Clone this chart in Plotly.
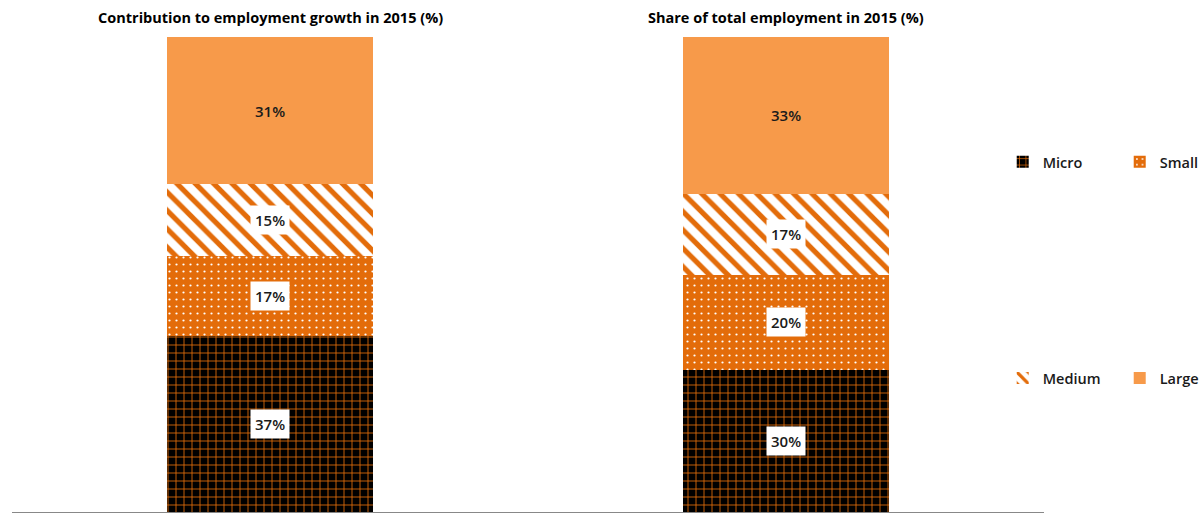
import plotly.graph_objects as go

# Data
categories = ["Contribution to employment growth in 2015 (%)",
              "Share of total employment in 2015 (%)"]
micro = [37, 30]
small = [17, 20]
medium = [15, 17]
large = [31, 33]

ORANGE = "#E36C0A"
LIGHT = "#F79A4A"
FONT = "Open Sans"

series = [
    ("Micro", micro, dict(shape="+", fgcolor=ORANGE, bgcolor="#000000", size=8, solidity=0.2, fgopacity=1), "#000000"),
    ("Small", small, dict(shape=".", fgcolor="#FFFFFF", bgcolor=ORANGE, size=7, solidity=0.08, fgopacity=1), ORANGE),
    ("Medium", medium, dict(shape="\\", fgcolor=ORANGE, bgcolor="#FFFFFF", size=13, solidity=0.4, fgopacity=1), "#FFFFFF"),
    ("Large", large, None, LIGHT),
]

fig = go.Figure()
for i, (name, vals, pat, col) in enumerate(series):
    marker = dict(color=col, line=dict(width=0))
    if pat:
        marker["pattern"] = pat
    fig.add_trace(go.Bar(
        x=categories, y=vals, name=name, marker=marker, width=0.4,
        legend="legend" if i < 2 else "legend2",
        hoverinfo="skip",
    ))

# Value labels at segment midpoints
annotations = []
for j, cat in enumerate(categories):
    base = 0
    for i, (name, vals, pat, col) in enumerate(series):
        v = vals[j]
        mid = base + v / 2
        base += v
        annotations.append(dict(
            x=cat, y=mid, xref="x", yref="y", text=f"{v}%", showarrow=False,
            font=dict(family=FONT, size=15, color="#1a1a1a", weight=600),
            bgcolor=None if name == "Large" else "#FFFFFF",
            borderpad=4,
        ))
    annotations.append(dict(
        x=cat, y=1, xref="x", yref="paper", yanchor="bottom", yshift=8,
        text=f"<b>{cat}</b>", showarrow=False,
        font=dict(family=FONT, size=14.5, color="#000000"),
    ))

legend_style = dict(orientation="h", xanchor="left", yanchor="middle",
                    entrywidth=72, entrywidthmode="pixels", itemwidth=30,
                    font=dict(family=FONT, size=14.5, color="#1a1a1a", weight=600),
                    traceorder="normal", bgcolor="rgba(0,0,0,0)")

fig.update_layout(
    width=1202, height=513,
    margin=dict(l=12, r=158, t=37, b=1, autoexpand=False),
    paper_bgcolor="white", plot_bgcolor="white",
    barmode="stack",
    annotations=annotations,
    xaxis=dict(showticklabels=False, showgrid=False, showline=True,
               linecolor="#888888", linewidth=1, range=[-0.5, 1.5], ticks=""),
    yaxis=dict(range=[0, 100], visible=False, showgrid=False),
    legend=dict(legend_style, x=0.96, y=0.737),
    legend2=dict(legend_style, x=0.96, y=0.282),
    showlegend=True,
)

fig.write_html("out.html")
